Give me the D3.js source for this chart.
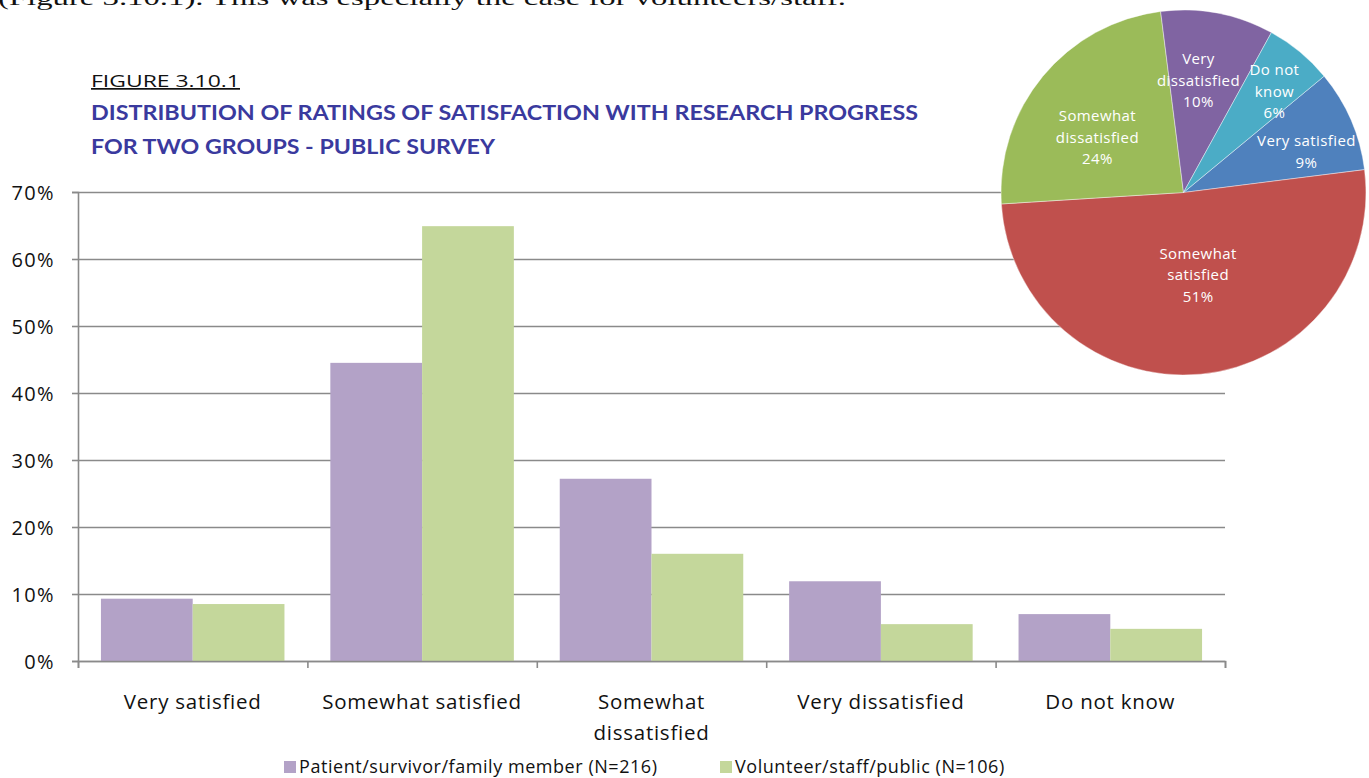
<!DOCTYPE html>
<html><head><meta charset="utf-8">
<script src="https://cdn.jsdelivr.net/npm/d3@7"></script>
<style>
html,body{margin:0;padding:0;background:#fff;}
svg{display:block;}
</style></head>
<body>
<svg id="c" width="1369" height="778"></svg>
<script>
// ---- data ----
const categories = ["Very satisfied", "Somewhat satisfied", "Somewhat dissatisfied", "Very dissatisfied", "Do not know"];
const categoryLabelLines = [["Very satisfied"], ["Somewhat satisfied"], ["Somewhat", "dissatisfied"], ["Very dissatisfied"], ["Do not know"]];
const seriesNames = ["Patient/survivor/family member (N=216)", "Volunteer/staff/public (N=106)"];
const patientValues = [9.3, 44.5, 27.2, 11.9, 7.0];
const volunteerValues = [8.5, 64.9, 16.0, 5.5, 4.8];
const yTicks = [0, 10, 20, 30, 40, 50, 60, 70];
const pieCategories = ["Very satisfied", "Somewhat satisfied", "Somewhat dissatisfied", "Very dissatisfied", "Do not know"];
const pieValues = [9, 51, 24, 10, 6];
const pieLabelLines = [["Very satisfied", "9%"], ["Somewhat", "satisfied", "51%"], ["Somewhat", "dissatisfied", "24%"], ["Very", "dissatisfied", "10%"], ["Do not", "know", "6%"]];

// ---- styles ----
const barColors = ["#B3A2C7", "#C4D79B"];
const pieColors = ["#4F81BD", "#C0504D", "#9BBB59", "#8064A2", "#4BACC6"];
const pieLabelPos = [[0.71, 5], [0.46, -4.6], [0.56, -7], [0.62, -3.2], [0.745, 2.4]]; // radius fraction, angle offset (deg)
const FONT = "'Open Sans', Lato, sans-serif";
const gridColor = "#8a8a8a";

const svg = d3.select("#c");

// top cut-off running text
svg.append("text").attr("x", -2).attr("y", 5)
  .attr("font-family", "'Liberation Serif', 'DejaVu Serif', serif").attr("font-size", 21)
  .attr("textLength", 848).attr("lengthAdjust", "spacingAndGlyphs")
  .attr("fill", "#111")
  .text("(Figure 3.10.1). This was especially the case for volunteers/staff.");

// ---- bar chart ----
const plotLeft = 78, plotRight = 1225, plotTop = 192, plotBottom = 661;
const y = d3.scaleLinear().domain([0, 70]).range([plotBottom, plotTop]);
const x = d3.scaleBand().domain(categories).range([plotLeft, plotRight]).paddingInner(0.2).paddingOuter(0.1);
const xs = d3.scaleBand().domain([0, 1]).range([0, x.bandwidth()]);

// gridlines
const yAxis = d3.axisLeft(y).tickValues(yTicks).tickSize(-(plotRight - plotLeft)).tickFormat("");
const gGrid = svg.append("g").attr("transform", `translate(${plotLeft},0)`).call(yAxis);
gGrid.select(".domain").remove();
gGrid.selectAll("line").attr("stroke", gridColor).attr("stroke-width", 1.6);

// bars
const seriesValues = [patientValues, volunteerValues];
seriesValues.forEach((vals, si) => {
  svg.append("g").selectAll("rect").data(vals).join("rect")
    .attr("x", (d, i) => x(categories[i]) + xs(si))
    .attr("y", d => y(d))
    .attr("width", xs.bandwidth())
    .attr("height", d => y(0) - y(d))
    .attr("fill", barColors[si]);
});

// y axis with outer ticks & labels
const yAxis2 = d3.axisLeft(y).tickValues(yTicks).tickSize(6).tickPadding(17).tickFormat(d => d + "%");
const gY = svg.append("g").attr("transform", `translate(${plotLeft},0)`).call(yAxis2);
gY.select(".domain").attr("stroke", gridColor).attr("stroke-width", 1.6);
gY.selectAll("line").attr("stroke", gridColor).attr("stroke-width", 1.6);
gY.selectAll("text").attr("font-family", FONT).attr("font-size", 20).attr("letter-spacing", 1.4)
  .attr("fill", "#111").attr("dy", "0.36em");

// x axis: category boundaries
const xb = d3.scaleLinear().domain([0, categories.length]).range([plotLeft, plotRight]);
const gX = svg.append("g").attr("transform", `translate(0,${plotBottom})`)
  .call(d3.axisBottom(xb).ticks(categories.length).tickSize(7).tickFormat(""));
gX.select(".domain").attr("stroke", gridColor).attr("stroke-width", 1.6);
gX.selectAll("line").attr("stroke", gridColor).attr("stroke-width", 1.6);

// category labels
categoryLabelLines.forEach((lines, i) => {
  const cx = x(categories[i]) + x.bandwidth() / 2;
  lines.forEach((ln, j) => {
    svg.append("text").attr("x", cx).attr("y", 709 + j * 31)
      .attr("text-anchor", "middle").attr("font-family", FONT).attr("font-size", 20.5)
      .attr("letter-spacing", 0.75).attr("fill", "#111").text(ln);
  });
});

// legend
const legendX = [284, 720];
seriesNames.forEach((n, i) => {
  svg.append("rect").attr("x", legendX[i]).attr("y", 761).attr("width", 12).attr("height", 12).attr("fill", barColors[i]);
  svg.append("text").attr("x", legendX[i] + 15).attr("y", 773).attr("font-family", FONT).attr("font-size", 18)
    .attr("letter-spacing", 0.55).attr("fill", "#111").text(n);
});

// titles
svg.append("text").attr("x", 91).attr("y", 87).attr("font-family", FONT).attr("font-size", 17)
  .attr("fill", "#111").attr("text-decoration", "underline")
  .attr("textLength", 149).attr("lengthAdjust", "spacingAndGlyphs").text("FIGURE 3.10.1");
const titleLines = ["DISTRIBUTION OF RATINGS OF SATISFACTION WITH RESEARCH PROGRESS", "FOR TWO GROUPS - PUBLIC SURVEY"];
const titleWidths = [827, 404];
titleLines.forEach((t, i) => {
  svg.append("text").attr("x", 91).attr("y", 120 + i * 34)
    .attr("font-family", "'Liberation Sans Narrow', Lato, sans-serif").attr("font-weight", "bold").attr("font-size", 21)
    .attr("fill", "#3A3A9E").attr("textLength", titleWidths[i]).attr("lengthAdjust", "spacingAndGlyphs").text(t);
});

// ---- pie ----
const R = 182.5, pcx = 1183.5, pcy = 192.5;
const start = 50.4 * Math.PI / 180;
const pie = d3.pie().sort(null).startAngle(start).endAngle(start + 2 * Math.PI);
const arcs = pie(pieValues);
const arc = d3.arc().innerRadius(0).outerRadius(R);
const gP = svg.append("g").attr("transform", `translate(${pcx},${pcy})`);
gP.selectAll("path").data(arcs).join("path")
  .attr("d", arc).attr("fill", (d, i) => pieColors[i])
  .attr("stroke", "#fff").attr("stroke-width", 0.6).attr("stroke-opacity", 0.7);
arcs.forEach((a, i) => {
  const [rf, off] = pieLabelPos[i];
  const ang = (a.startAngle + a.endAngle) / 2 + off * Math.PI / 180;
  const lx = Math.sin(ang) * R * rf, ly = -Math.cos(ang) * R * rf;
  const lines = pieLabelLines[i];
  lines.forEach((ln, j) => {
    gP.append("text").attr("x", lx).attr("y", ly + (j - (lines.length - 1) / 2) * 21.5)
      .attr("dy", "0.35em").attr("text-anchor", "middle")
      .attr("font-family", FONT).attr("font-size", 15).attr("letter-spacing", 0.4)
      .attr("fill", "#fff").text(ln);
  });
});
</script>
</body></html>
